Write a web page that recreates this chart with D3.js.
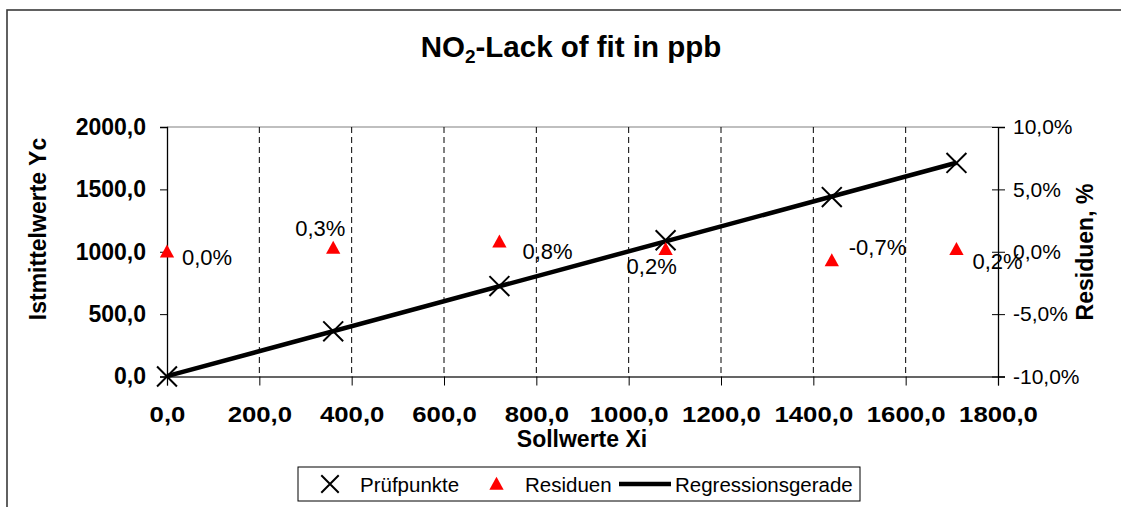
<!DOCTYPE html>
<html>
<head>
<meta charset="utf-8">
<script src="https://cdn.jsdelivr.net/npm/d3@7"></script>
<style>
  html, body { margin: 0; padding: 0; background: #fff; }
  svg { display: block; font-family: "Liberation Sans", Arial, sans-serif; }
</style>
</head>
<body>
<svg id="chart" width="1121" height="507"></svg>
<script>
// Sollwerte (x), Istmittelwerte (left axis) and Residuen in % (right axis)
const sollwerte = [0, 360, 720, 1080, 1440, 1710];
const istwerte = [0, 362, 725, 1092, 1438, 1712];
const residuen = [0.0, 0.3, 0.8, 0.2, -0.7, 0.2];

const xTicks = [0, 200, 400, 600, 800, 1000, 1200, 1400, 1600, 1800];
const yLeftTicks = [0, 500, 1000, 1500, 2000];
const yRightTicks = [-10, -5, 0, 5, 10];

// German number format with a plain hyphen for negatives
const fmt1 = d3.format(".1f");
const de = v => fmt1(v).replace(".", ",").replace("\u2212", "-");

const svg = d3.select("#chart");
const W = 1121, H = 507;
const plot = { left: 167, right: 998, top: 127, bottom: 376.5 };

const x = d3.scaleLinear().domain([0, 1800]).range([plot.left, plot.right]);
const yL = d3.scaleLinear().domain([0, 2000]).range([plot.bottom, plot.top]);
const yR = d3.scaleLinear().domain([-10, 10]).range([plot.bottom, plot.top]);

// chart frame
svg.append("rect").attr("x", 0).attr("y", 0).attr("width", W).attr("height", H).attr("fill", "#fff");
svg.append("rect")
  .attr("x", 7).attr("y", 10).attr("width", 1130).attr("height", 540)
  .attr("fill", "none").attr("stroke", "#3a3a3a").attr("stroke-width", 1.6);

// title with subscript
const title = svg.append("text")
  .attr("x", 571).attr("y", 57)
  .attr("text-anchor", "middle")
  .attr("font-size", 29.5).attr("font-weight", "bold");
title.append("tspan").text("NO");
title.append("tspan").text("2").attr("font-size", 19).attr("dy", 6);
title.append("tspan").text("-Lack of fit in ppb").attr("dy", -6);

// plot top border
svg.append("line")
  .attr("x1", plot.left).attr("x2", plot.right)
  .attr("y1", plot.top).attr("y2", plot.top)
  .attr("stroke", "#808080").attr("stroke-width", 1.2);

// vertical dashed gridlines
svg.append("g").selectAll("line")
  .data(xTicks.filter(d => d > 0 && d < 1800))
  .join("line")
  .attr("x1", d => x(d)).attr("x2", d => x(d))
  .attr("y1", plot.top).attr("y2", plot.bottom)
  .attr("stroke", "#000").attr("stroke-width", 1)
  .attr("stroke-dasharray", "6,4");

// bottom (x) axis
const gx = svg.append("g").attr("transform", `translate(0,${plot.bottom})`)
  .call(d3.axisBottom(x).tickValues(xTicks).tickSize(9).tickPadding(20).tickFormat(de));
gx.select(".domain").attr("stroke", "#333").attr("stroke-width", 1.3);
gx.selectAll(".tick line").attr("stroke", "#000");
gx.selectAll(".tick text")
  .attr("font-size", 23).attr("font-weight", "bold").attr("fill", "#000")
  .attr("transform", "scale(1.12,1)")
  .attr("font-family", "Liberation Sans, Arial, sans-serif");

// left axis
const gyl = svg.append("g").attr("transform", `translate(${plot.left},0)`)
  .call(d3.axisLeft(yL).tickValues(yLeftTicks).tickSize(7).tickPadding(14).tickFormat(de));
gyl.select(".domain").attr("stroke", "#000").attr("stroke-width", 1.3);
gyl.selectAll(".tick line").attr("stroke", "#000");
gyl.selectAll(".tick text")
  .attr("font-size", 23).attr("font-weight", "bold").attr("fill", "#000")
  .attr("font-family", "Liberation Sans, Arial, sans-serif");

// right axis (cross ticks)
const gyr = svg.append("g").attr("transform", `translate(${plot.right},0)`)
  .call(d3.axisRight(yR).tickValues(yRightTicks).tickSize(7).tickPadding(8)
    .tickFormat(d => de(d) + "%"));
gyr.select(".domain").attr("stroke", "#000").attr("stroke-width", 1.3);
gyr.selectAll(".tick line").attr("x1", -6).attr("stroke", "#000");
gyr.selectAll(".tick text")
  .attr("font-size", 21).attr("fill", "#000")
  .attr("font-family", "Liberation Sans, Arial, sans-serif");

// axis titles
svg.append("text")
  .attr("x", 582).attr("y", 447)
  .attr("text-anchor", "middle")
  .attr("font-size", 23).attr("font-weight", "bold")
  .text("Sollwerte Xi");
svg.append("text")
  .attr("transform", "translate(46,229) rotate(-90)")
  .attr("text-anchor", "middle")
  .attr("font-size", 23).attr("font-weight", "bold")
  .text("Istmittelwerte Yc");
svg.append("text")
  .attr("transform", "translate(1093,252) rotate(-90)")
  .attr("text-anchor", "middle")
  .attr("font-size", 23).attr("font-weight", "bold")
  .text("Residuen, %");

// least-squares regression line through the test points
const mx = d3.mean(sollwerte), my = d3.mean(istwerte);
const slope = d3.sum(sollwerte, (v, i) => (v - mx) * (istwerte[i] - my)) /
              d3.sum(sollwerte, v => (v - mx) * (v - mx));
const intercept = my - slope * mx;
const xExt = d3.extent(sollwerte);
svg.append("path")
  .datum(xExt.map(v => [v, intercept + slope * v]))
  .attr("d", d3.line().x(d => x(d[0])).y(d => yL(d[1])))
  .attr("fill", "none").attr("stroke", "#000").attr("stroke-width", 4.5);

// cross markers
const cross = d3.symbol().type(d3.symbolX).size(260);
svg.append("g").selectAll("path")
  .data(sollwerte.map((v, i) => [v, istwerte[i]]))
  .join("path")
  .attr("transform", d => `translate(${x(d[0])},${yL(d[1])})`)
  .attr("d", cross)
  .attr("fill", "none").attr("stroke", "#000").attr("stroke-width", 2);

// residual triangles
const tri = (cx, cy, s) => `M${cx},${cy - s * 0.55}L${cx + s * 0.55},${cy + s * 0.45}L${cx - s * 0.55},${cy + s * 0.45}Z`;
svg.append("g").selectAll("path")
  .data(sollwerte.map((v, i) => [v, residuen[i]]))
  .join("path")
  .attr("d", d => tri(x(d[0]), yR(d[1]), 13))
  .attr("fill", "#ff0000");

// residual data labels
const labelOffsets = [[15, 13], [-38, -12], [23, 17], [-39, 25], [17, -5], [16, 20]];
svg.append("g").selectAll("text")
  .data(sollwerte.map((v, i) => [v, residuen[i], labelOffsets[i]]))
  .join("text")
  .attr("x", d => x(d[0]) + d[2][0])
  .attr("y", d => yR(d[1]) + d[2][1])
  .attr("font-size", 22)
  .text(d => de(d[1]) + "%");

// legend
const lg = svg.append("g");
lg.append("rect").attr("x", 298).attr("y", 467).attr("width", 562).attr("height", 34)
  .attr("fill", "#fff").attr("stroke", "#000").attr("stroke-width", 1);
lg.append("path").attr("transform", "translate(330,484)")
  .attr("d", d3.symbol().type(d3.symbolX).size(200)())
  .attr("fill", "none").attr("stroke", "#000").attr("stroke-width", 2);
lg.append("text").attr("x", 360).attr("y", 491.5).attr("font-size", 20.5).text("Prüfpunkte");
lg.append("path").attr("d", tri(496.5, 484, 13)).attr("fill", "#ff0000");
lg.append("text").attr("x", 525).attr("y", 491.5).attr("font-size", 20.5).text("Residuen");
lg.append("line").attr("x1", 619).attr("x2", 671).attr("y1", 484).attr("y2", 484)
  .attr("stroke", "#000").attr("stroke-width", 4.5);
lg.append("text").attr("x", 675).attr("y", 491.5).attr("font-size", 20.5).text("Regressionsgerade");
</script>
</body>
</html>
